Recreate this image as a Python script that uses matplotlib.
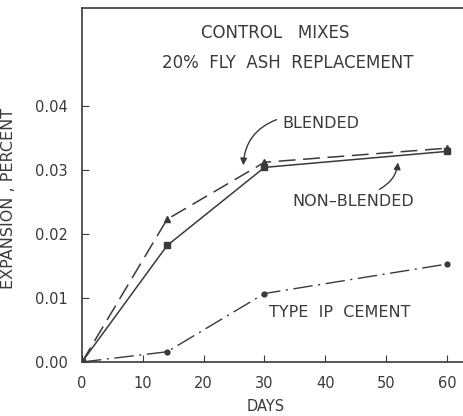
import matplotlib
matplotlib.use("Agg")
from matplotlib import pyplot as plt

# data
days = [0, 14, 30, 60]
blended = [0.0, 0.0223, 0.0312, 0.0334]
non_blended = [0.0, 0.0182, 0.0304, 0.0329]
type_ip = [0.0, 0.0016, 0.0107, 0.0153]

xticks = [0, 10, 20, 30, 40, 50, 60]
yticks = [0.00, 0.01, 0.02, 0.03, 0.04]
ytick_labels = ["0.00", "0.01", "0.02", "0.03", "0.04"]

ink = "#3a3a3a"
plt.rcParams["font.family"] = "DejaVu Sans"

fig = plt.figure(figsize=(4.64, 4.16), dpi=100)
ax = fig.add_axes([0.1767, 0.1298, 0.8233, 0.851])

ax.plot(days, blended, color=ink, lw=1.1, ls=(0, (11, 5)), marker="^", ms=5)
ax.plot(days, non_blended, color=ink, lw=1.1, ls="-", marker="s", ms=4)
ax.plot(days, type_ip, color=ink, lw=1.0, ls=(0, (14, 4, 1.5, 4)), marker="o", ms=3.5)

ax.set_xlim(0, 62.8)
ax.set_ylim(0, 0.0553)
ax.set_xticks(xticks)
ax.set_yticks(yticks)
ax.set_yticklabels(ytick_labels)
ax.tick_params(direction="in", length=5, colors=ink, labelsize=10.5)
ax.tick_params(axis="y", pad=10)
ax.tick_params(axis="x", pad=10)
for s in ["left", "bottom", "top"]:
    ax.spines[s].set_color(ink)
    ax.spines[s].set_linewidth(1.2)
ax.spines["right"].set_visible(False)

ax.set_xlabel("DAYS", color=ink, fontsize=10.5, va="center")
ax.set_ylabel("EXPANSION , PERCENT", color=ink, fontsize=11.5)
ax.xaxis.set_label_coords(0.48, -0.127)
ax.yaxis.set_label_coords(-0.172, 0.463)

fs = 11.5
ax.text(31.7, 0.0514, "CONTROL   MIXES", color=ink, fontsize=12, ha="center", va="center")
ax.text(33.8, 0.0467, "20%  FLY  ASH  REPLACEMENT", color=ink, fontsize=12, ha="center", va="center")
ax.text(39.2, 0.0373, "BLENDED", color=ink, fontsize=fs, ha="center", va="center")
ax.text(44.6, 0.0250, "NON\u2013BLENDED", color=ink, fontsize=fs, ha="center", va="center")
ax.text(42.3, 0.0077, "TYPE  IP  CEMENT", color=ink, fontsize=fs, ha="center", va="center")

ax.annotate("", xy=(26.5, 0.0303), xytext=(32.4, 0.0380),
            arrowprops=dict(arrowstyle="-|>", color=ink, lw=1.0,
                            connectionstyle="arc3,rad=0.35"))
ax.annotate("", xy=(52.0, 0.0316), xytext=(48.5, 0.0268),
            arrowprops=dict(arrowstyle="-|>", color=ink, lw=1.0,
                            connectionstyle="arc3,rad=0.3"))

fig.savefig("out.png", dpi=100)
